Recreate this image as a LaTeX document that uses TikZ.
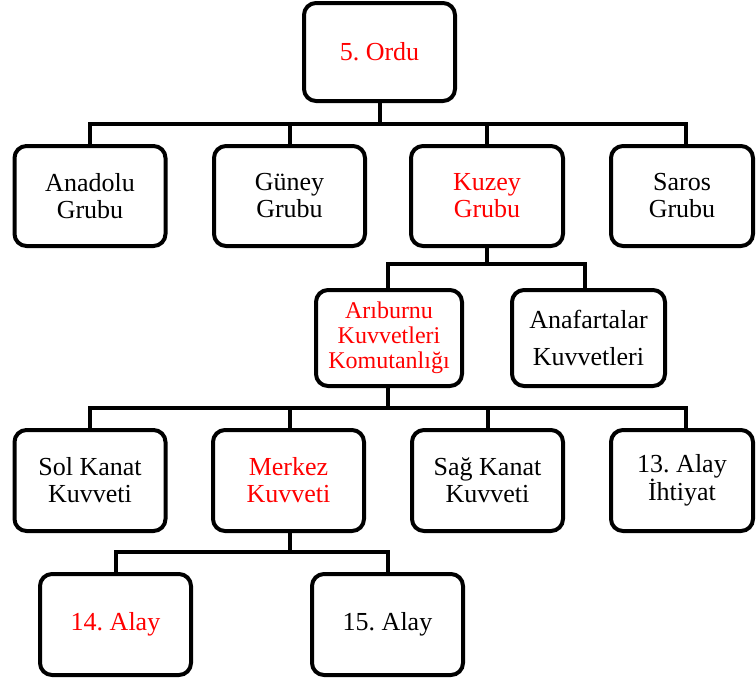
\documentclass[tikz,border=0pt]{standalone}
\usepackage{fontspec}
\setmainfont{Liberation Serif}
\frenchspacing
\begin{document}
\begin{tikzpicture}[x=1pt,y=-1pt,
  box/.style={draw=black, fill=white, line width=4pt, rounded corners=12pt,
    minimum width=151pt, minimum height=100pt, inner sep=0pt, align=center,
    font=\fontsize{26}{27}\selectfont},
  narrow/.style={minimum width=142pt},
  hl/.style={text=red},
  conn/.style={draw=black, line width=4pt}]
\useasboundingbox (0,0) rectangle (756,678);
\fill[white] (0,0) rectangle (756,678);
% nodes
\node[box, hl, minimum height=98pt] (ordu) at (379.5,52) {5. Ordu};
\node[box] (anadolu) at (90,196) {Anadolu\\Grubu};
\node[box] (guney) at (289.5,196) {Güney\\Grubu};
\node[box, hl, minimum width=152pt] (kuzey) at (487,196) {Kuzey\\Grubu};
\node[box, narrow] (saros) at (682,196) {Saros\\Grubu};
\node[box, hl, minimum width=146pt, minimum height=96pt, font=\fontsize{24}{25}\selectfont] (ariburnu) at (389,338) {Arıburnu\\Kuvvetleri\\Komutanlığı};
\node[box, minimum width=153pt, minimum height=96pt, font=\fontsize{26}{37}\selectfont] (anafartalar) at (588.5,338) {Anafartalar\\Kuvvetleri};
\node[box, minimum height=101pt] (sol) at (90,480.5) {Sol Kanat\\Kuvveti};
\node[box, hl, minimum height=101pt] (merkez) at (288.5,480.5) {Merkez\\Kuvveti};
\node[box, minimum height=101pt] (sag) at (487.5,480.5) {Sağ Kanat\\Kuvveti};
\node[box, narrow, minimum height=101pt] (alay13) at (682,480.5) {13. Alay\\İhtiyat};
\node[box, hl, minimum height=101pt] (alay14) at (115.5,624.5) {14. Alay};
\node[box, minimum height=101pt] (alay15) at (387.5,624.5) {15. Alay};
% bar levels
\coordinate (b1) at (0,124);
\coordinate (b2) at (0,264);
\coordinate (b3) at (0,408);
\coordinate (b4) at (0,552);
% level 1
\draw[conn] (ordu.south) -- (ordu.south |- b1);
\draw[conn] (anadolu.north) |- ([xshift=4pt]saros.north |- b1) -- ([xshift=4pt]saros.north);
\draw[conn] (guney.north) -- (guney.north |- b1);
\draw[conn] (kuzey.north) -- (kuzey.north |- b1);
% level 2
\draw[conn] (kuzey.south) -- (kuzey.south |- b2);
\draw[conn] ([xshift=-1pt]ariburnu.north) |- ([xshift=-3.5pt]anafartalar.north |- b2) -- ([xshift=-3.5pt]anafartalar.north);
% level 3
\draw[conn] ([xshift=-1pt]ariburnu.south) -- ([xshift=-1pt]ariburnu.south |- b3);
\draw[conn] (sol.north) |- ([xshift=4pt]alay13.north |- b3) -- ([xshift=4pt]alay13.north);
\draw[conn] ([xshift=1.5pt]merkez.north) -- ([xshift=1.5pt]merkez.north |- b3);
\draw[conn] (sag.north) -- (sag.north |- b3);
% level 4
\draw[conn] ([xshift=1.5pt]merkez.south) -- ([xshift=1.5pt]merkez.south |- b4);
\draw[conn] (alay14.north) |- (alay15.north |- b4) -- (alay15.north);
\end{tikzpicture}
\end{document}
